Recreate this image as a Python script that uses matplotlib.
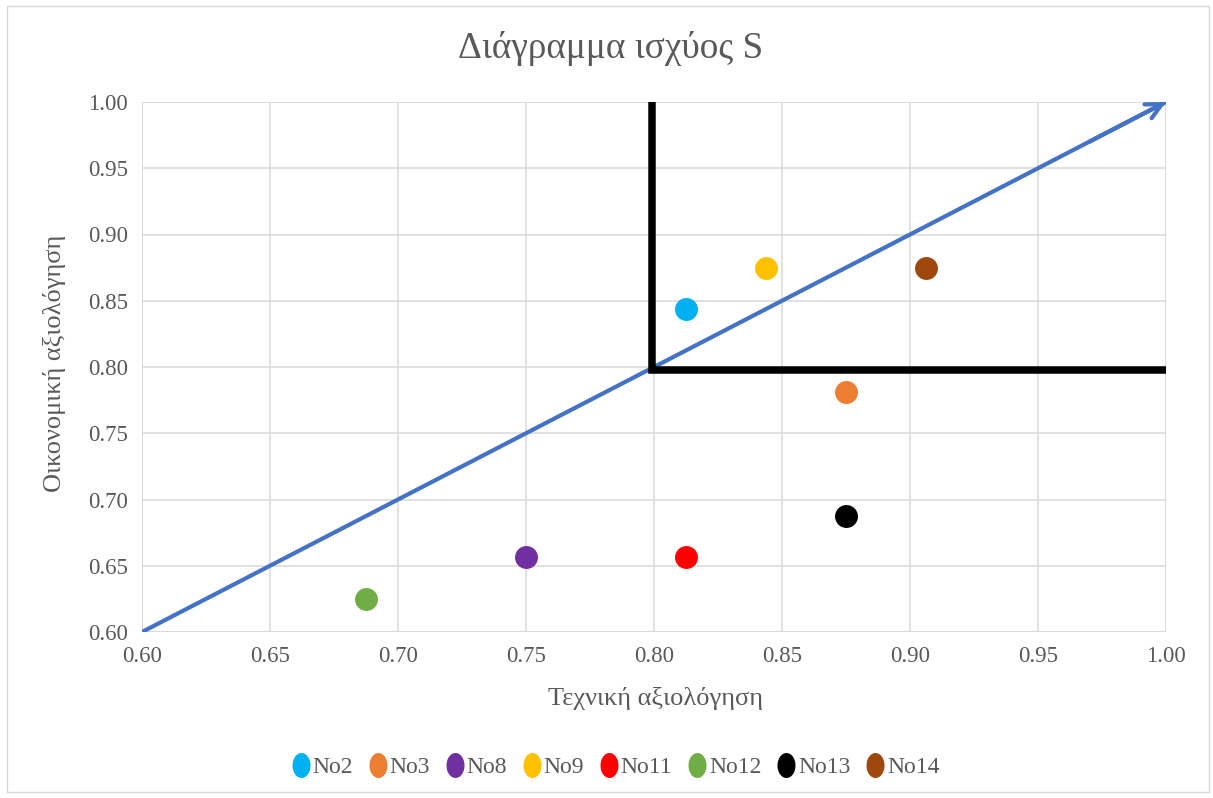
import matplotlib
matplotlib.use("Agg")
import numpy as np
import matplotlib.pyplot as plt
from matplotlib.patches import Rectangle
from matplotlib.path import Path
from matplotlib.lines import Line2D

plt.rcParams['font.family'] = ['Liberation Serif', 'DejaVu Serif']

# Scatter data: technical vs economic evaluation
names = ["No2", "No3", "No8", "No9", "No11", "No12", "No13", "No14"]
technical = [0.8125, 0.875, 0.75, 0.84375, 0.8125, 0.6875, 0.875, 0.90625]
economic = [0.84375, 0.78125, 0.65625, 0.875, 0.65625, 0.625, 0.6875, 0.875]
colors = ["#00B0F0", "#ED7D31", "#7030A0", "#FFC000", "#FF0000", "#70AD47", "#000000", "#9E480E"]

# Diagonal reference line and the threshold corner
diag_x = [0.6, 1.0]
diag_y = [0.6, 1.0]
threshold_x = [0.7993, 0.7993, 1.0]
threshold_y = [1.0, 0.7974, 0.7974]

ticks = [0.60, 0.65, 0.70, 0.75, 0.80, 0.85, 0.90, 0.95, 1.00]

text_color = "#595959"
grid_color = "#D9D9D9"
serif = ['Liberation Serif', 'DejaVu Serif']

fig = plt.figure(figsize=(12.13, 7.98), dpi=100)
fig.patches.append(Rectangle((7 / 1213, 6 / 798), 1202 / 1213, 786 / 798,
                             transform=fig.transFigure, fill=False,
                             edgecolor=grid_color, linewidth=1.0))

ax = fig.add_axes([142 / 1213, 166 / 798, 1024 / 1213, 530 / 798])
ax.set_xlim(0.6, 1.0)
ax.set_ylim(0.6, 1.0)
ax.set_xticks(ticks)
ax.set_yticks(ticks)
ax.set_xticklabels([f"{t:.2f}" for t in ticks])
ax.set_yticklabels([f"{t:.2f}" for t in ticks])
ax.tick_params(length=0, labelsize=16.5, labelcolor=text_color, pad=10)
for s in ax.spines.values():
    s.set_visible(False)
ax.grid(True, color=grid_color, linewidth=1.1)
ax.set_axisbelow(True)
for t in (0.6, 1.0):
    ax.axvline(t, color=grid_color, linewidth=1.1, zorder=0.5)
    ax.axhline(t, color=grid_color, linewidth=1.1, zorder=0.5)

# blue diagonal with open arrow head
ax.plot(diag_x, diag_y, color="#4472C4", linewidth=3.0, solid_capstyle="butt", zorder=2)
ax.annotate("", xy=(diag_x[1], diag_y[1]), xytext=(diag_x[1] - 0.03, diag_y[1] - 0.03),
            arrowprops=dict(arrowstyle="->", color="#4472C4", lw=3.0,
                            mutation_scale=28, shrinkA=0, shrinkB=0),
            annotation_clip=False, zorder=2)

# threshold corner
ax.plot(threshold_x, threshold_y, color="black", linewidth=5.4,
        solid_joinstyle="miter", solid_capstyle="butt", clip_on=False, zorder=3)

for n, x, y, c in zip(names, technical, economic, colors):
    ax.plot([x], [y], "o", color=c, markersize=16.5, markeredgewidth=0, zorder=4)

fig.text(611 / 1213, 1 - 58 / 798, "Διάγραμμα ισχύος S", fontsize=26.8,
         color=text_color, ha="center", va="baseline")
ax.set_xlabel("Τεχνική αξιολόγηση", fontsize=19, color=text_color)
ax.set_ylabel("Οικονομική αξιολόγηση", fontsize=19, color=text_color)
ax.xaxis.set_label_coords(514 / 1024, -(698 - 632) / 530)
ax.yaxis.set_label_coords(-(142 - 55) / 1024, (632 - 363) / 530)
ax.xaxis.label.set_va("center")
ax.yaxis.label.set_va("center")

# legend with slightly tall oval swatches
theta = np.linspace(0, 2 * np.pi, 60)
oval = Path(np.column_stack([0.72 * np.cos(theta), np.sin(theta)]), closed=True)
handles = [Line2D([], [], linestyle="none", marker=oval, markersize=18,
                  markerfacecolor=c, markeredgewidth=0) for c in colors]
leg = fig.legend(handles, names, loc="center", bbox_to_anchor=(613 / 1213, 1 - 767 / 798),
                 ncol=8, frameon=False, prop={"family": serif, "size": 17},
                 handletextpad=-0.1, columnspacing=0.45, handlelength=1.2)
for t in leg.get_texts():
    t.set_color(text_color)

fig.savefig("out.png", dpi=100)
